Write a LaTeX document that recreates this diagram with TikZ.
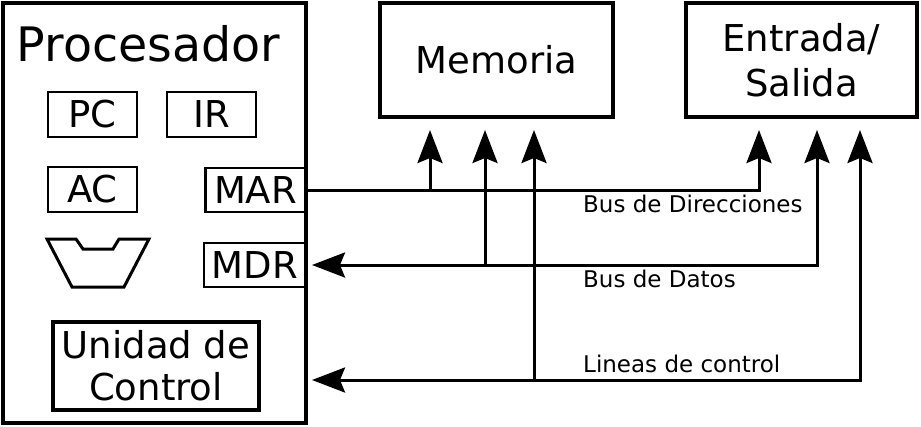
\documentclass[tikz,border=0pt]{standalone}
\usepackage{fontspec}
\setmainfont{DejaVu Sans}
\usetikzlibrary{arrows.meta}
\begin{document}
\begin{tikzpicture}[x=1pt,y=-1pt,
  bigbox/.style={draw,line width=4pt,inner sep=0pt},
  reg/.style={draw,line width=2.5pt,inner sep=0pt,font=\fontsize{37}{43}\selectfont},
  bus/.style={line width=3pt,line join=miter},
  tip/.style={-{Stealth[length=33pt,width=25pt,inset=5pt]}},
  tips/.style={{Stealth[length=33pt,width=25pt,inset=5pt]}-{Stealth[length=33pt,width=25pt,inset=5pt]}},
  lbl/.style={anchor=base west,inner sep=0pt,font=\fontsize{23}{27}\selectfont}]
\useasboundingbox (0,0) rectangle (921,426);
% processor
\node[bigbox,minimum width=303pt,minimum height=420pt] (proc) at (154.5,213) {};
\node[anchor=base,inner sep=0pt,font=\fontsize{47.5}{52}\selectfont] (title) at (148.5,61) {Procesador};
\node[reg,minimum width=89pt,minimum height=45pt] (pc) at (92.5,114.5) {PC};
\node[reg,minimum width=89pt,minimum height=45pt] (ir) at (211.5,114.5) {IR};
\node[reg,minimum width=89pt,minimum height=45pt] (ac) at (92.5,189.5) {AC};
\node[reg,minimum width=100pt,minimum height=44pt] (mar) at (255.5,190) {MAR};
\node[reg,minimum width=102pt,minimum height=44pt] (mdr) at (255,265) {MDR};
\draw[line width=3pt,line join=miter] (47,239) -- (76,239) -- (83,249) -- (113,249) -- (119,239) -- (149,239) -- (124,287) -- (72,287) -- cycle;
\node[bigbox,minimum width=206pt,minimum height=88pt,align=center,font=\fontsize{37}{42}\selectfont] (uc) at (156,366) {Unidad de\\Control};
% memory and IO
\node[bigbox,minimum width=233pt,minimum height=114pt,font=\fontsize{37}{43}\selectfont] (mem) at (496.5,60) {Memoria};
\node[bigbox,minimum width=231pt,minimum height=114pt,align=center,font=\fontsize{37}{45}\selectfont] (es) at (801.5,60) {Entrada/\\Salida};
% coordinates
\coordinate (memA) at (430,130);
\coordinate (memD) at (485,130);
\coordinate (memC) at (534,130);
\coordinate (esA) at (759,130);
\coordinate (esD) at (817,130);
\coordinate (esC) at (860,130);
\coordinate (mdrIn) at (312,265);
\coordinate (ucIn) at (312,380);
% buses
\draw[bus,tip] (mar.east) -- (759,190) -- (esA);
\draw[bus,tip] (430,190) -- (memA);
\draw[bus,tip] (485,265) -- (memD);
\draw[bus,tip] (534,380) -- (memC);
\draw[bus,tips] (esD) -- (817,265) -- (mdrIn);
\draw[bus,tips] (esC) -- (860,380) -- (ucIn);
% labels
\node[lbl] (la) at (583,212) {Bus de Direcciones};
\node[lbl] (ld) at (583,287) {Bus de Datos};
\node[lbl] (lc) at (583,372) {Lineas de control};
\end{tikzpicture}
\end{document}
